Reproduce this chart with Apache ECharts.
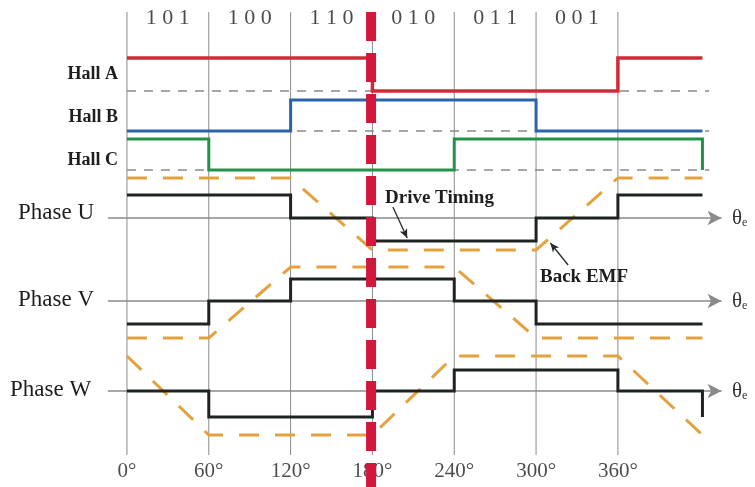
<!DOCTYPE html>
<html>
<head>
<meta charset="utf-8">
<script src="https://cdn.jsdelivr.net/npm/echarts@6/dist/echarts.min.js"></script>
<style>
  html, body { margin: 0; padding: 0; background: #fff; }
  #chart { width: 755px; height: 487px; }
</style>
</head>
<body>
<div id="chart"></div>
<script>
// electrical angle breakpoints (deg), last one is where the traces stop
const angles = [0, 60, 120, 180, 240, 300, 360, 422];
const angleLabels = ['0°', '60°', '120°', '180°', '240°', '300°', '360°'];
const hallCodes = ['1 0 1', '1 0 0', '1 1 0', '0 1 0', '0 1 1', '0 0 1'];

// hall sensor levels per 60° sector
const hallA = [1, 1, 1, 0, 0, 0, 1];
const hallB = [0, 0, 1, 1, 1, 0, 0];
const hallC = [1, 0, 0, 0, 1, 1, 1];
const hallCTail = 0;

// drive timing per sector (+1 / 0 / -1)
const driveU = [1, 1, 0, -1, -1, 0, 1];
const driveV = [-1, 0, 1, 1, 0, -1, -1];
const driveW = [0, -1, -1, 0, 1, 1, 0];
const driveWTail = -1;

// back EMF at each breakpoint (trapezoid corners)
const emfU = [1, 1, 1, -1, -1, -1, 1, 1];
const emfV = [-1, -1, 1, 1, 1, -1, -1, -1];
const emfW = [1, -1, -1, -1, 1, 1, 1, -1];

// row layout (y in px, axis is inverted)
const rowHall = {
  A: { hi: 58, lo: 91 },
  B: { hi: 100, lo: 131 },
  C: { hi: 139, lo: 170 }
};
const rowPhase = {
  U: { hi: 195, mid: 218, lo: 241, ehi: 178, elo: 250 },
  V: { hi: 279, mid: 301, lo: 324, ehi: 267, elo: 338 },
  W: { hi: 370, mid: 391, lo: 417, ehi: 356, elo: 435 }
};

const SERIF = '"Liberation Serif", "Times New Roman", serif';
const GRID_TOP = 12, GRID_BOTTOM = 455;

const stepData = (levels, toY, tail) => {
  const pts = [];
  levels.forEach((v, i) => {
    pts.push([angles[i], toY(v)]);
    pts.push([angles[i + 1], toY(v)]);
  });
  if (tail !== undefined) pts.push([angles[angles.length - 1], toY(tail)]);
  return pts;
};

const hallY = row => v => (v ? row.hi : row.lo);
const driveY = row => v => (v > 0 ? row.hi : v < 0 ? row.lo : row.mid);
const emfData = (vals, row) => vals.map((v, i) => [angles[i], v > 0 ? row.ehi : row.elo]);

const plainLine = (data, color, width, type, z) => ({
  type: 'line',
  data: data,
  symbol: 'none',
  clip: false,
  silent: true,
  z: z,
  lineStyle: { color: color, width: width, type: type || 'solid', cap: 'butt', join: 'miter' }
});

const series = [];

// vertical sector lines
angles.slice(0, 7).forEach(a => {
  series.push(plainLine([[a, GRID_TOP], [a, GRID_BOTTOM]], '#8a8a8a', 1, 'solid', 1));
});

// hall baselines
['A', 'B', 'C'].forEach(k => {
  series.push(plainLine([[0, rowHall[k].lo], [427, rowHall[k].lo]], '#8a8a8a', 1.3, [9, 8], 2));
});

// phase axes with arrow
['U', 'V', 'W'].forEach(k => {
  series.push({
    type: 'line',
    data: [],
    silent: true,
    z: 2,
    markLine: {
      silent: true,
      z: 2,
      symbol: ['none', 'arrow'],
      symbolSize: [11, 14],
      label: { show: false },
      lineStyle: { color: '#8a8a8a', width: 1.6, type: 'solid' },
      data: [[{ coord: [-14, rowPhase[k].mid] }, { coord: [436, rowPhase[k].mid] }]]
    }
  });
});

// back EMF
const ORANGE = '#e6a13f';
series.push(plainLine(emfData(emfU, rowPhase.U), ORANGE, 3, [20, 16], 4));
series.push(plainLine(emfData(emfV, rowPhase.V), ORANGE, 3, [20, 16], 4));
series.push(plainLine(emfData(emfW, rowPhase.W), ORANGE, 3, [20, 16], 4));

// drive timing
series.push(plainLine(stepData(driveU, driveY(rowPhase.U)), '#1f2422', 3, 'solid', 6));
series.push(plainLine(stepData(driveV, driveY(rowPhase.V)), '#1f2422', 3, 'solid', 6));
series.push(plainLine(stepData(driveW, driveY(rowPhase.W), driveWTail), '#1f2422', 3, 'solid', 6));

// hall signals
series.push(plainLine(stepData(hallA, hallY(rowHall.A)), '#d42a38', 3.5, 'solid', 7));
series.push(plainLine(stepData(hallB, hallY(rowHall.B)), '#2b64ad', 3, 'solid', 7));
series.push(plainLine(stepData(hallC, hallY(rowHall.C), hallCTail), '#22944a', 3, 'solid', 7));

// commutation marker at 180°
series.push(plainLine([[179, GRID_TOP], [179, 487]], '#d3163b', 10, [29, 12], 9));

// sector codes on top
series.push({
  type: 'scatter',
  silent: true,
  symbolSize: 1,
  itemStyle: { color: 'rgba(0,0,0,0)' },
  z: 8,
  data: hallCodes.map((c, i) => [angles[i] + 30, 18]),
  label: {
    show: true,
    position: 'inside',
    formatter: p => hallCodes[p.dataIndex],
    fontFamily: SERIF,
    fontSize: 22,
    color: '#1e1e1e'
  }
});

// angle labels at the bottom
series.push({
  type: 'scatter',
  silent: true,
  symbolSize: 1,
  itemStyle: { color: 'rgba(0,0,0,0)' },
  z: 8,
  data: angleLabels.map((t, i) => [angles[i], 471]),
  label: {
    show: true,
    position: 'inside',
    formatter: p => angleLabels[p.dataIndex],
    fontFamily: SERIF,
    fontSize: 21,
    color: '#1e1e1e'
  }
});

// annotation arrows
series.push({
  type: 'line',
  data: [],
  silent: true,
  z: 8,
  markLine: {
    silent: true,
    z: 8,
    symbol: ['none', 'arrow'],
    symbolSize: [6, 9],
    label: { show: false },
    lineStyle: { color: '#2a2a2a', width: 1.3, type: 'solid' },
    data: [
      [{ coord: [195, 207] }, { coord: [205.5, 238] }],
      [{ coord: [323.5, 265] }, { coord: [310.5, 243] }]
    ]
  }
});

const textEl = (x, y, text, font, align) => ({
  type: 'text',
  x: x,
  y: y,
  silent: true,
  z: 10,
  style: { text: text, font: font, fill: '#1e1e1e', align: align || 'left', verticalAlign: 'middle' }
});

const thetaEl = y => ({
  type: 'text',
  x: 732,
  y: y,
  silent: true,
  z: 10,
  style: {
    text: '{t|θ}{s|e}',
    verticalAlign: 'middle',
    rich: {
      t: { fontFamily: SERIF, fontSize: 21, fill: '#333' },
      s: { fontFamily: SERIF, fontSize: 12, fill: '#333', padding: [10, 0, 0, 0] }
    }
  }
});

const chart = echarts.init(document.getElementById('chart'), null, { renderer: 'canvas' });
chart.setOption({
  animation: false,
  backgroundColor: '#fff',
  grid: { left: 106.5, right: 28, top: 0, bottom: 0 },
  xAxis: { type: 'value', min: -15, max: 440, show: false },
  yAxis: { type: 'value', min: 0, max: 487, inverse: true, show: false },
  graphic: [
    textEl(118, 74, 'Hall A', 'bold 18px ' + SERIF, 'right'),
    textEl(118, 117, 'Hall B', 'bold 18px ' + SERIF, 'right'),
    textEl(118, 160, 'Hall C', 'bold 18px ' + SERIF, 'right'),
    textEl(18, 213, 'Phase U', '23px ' + SERIF),
    textEl(18, 300, 'Phase V', '23px ' + SERIF),
    textEl(10, 390, 'Phase W', '23px ' + SERIF),
    textEl(385, 198, 'Drive Timing', 'bold 19px ' + SERIF),
    textEl(540, 277, 'Back EMF', 'bold 19px ' + SERIF),
    thetaEl(218),
    thetaEl(301),
    thetaEl(391)
  ],
  series: series
});
window.addEventListener('resize', function () {
  chart.resize();
});
</script>
</body>
</html>
